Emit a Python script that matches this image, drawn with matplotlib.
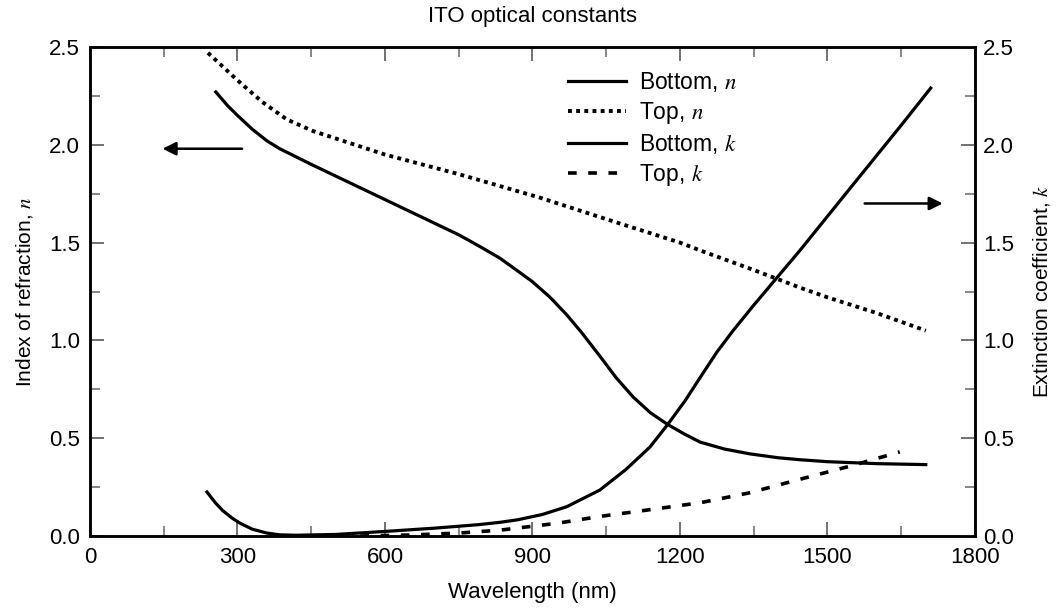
import matplotlib
matplotlib.use("Agg")
import matplotlib.pyplot as plt
from matplotlib.ticker import MultipleLocator

plt.rcParams['font.family'] = ['Liberation Sans', 'DejaVu Sans']
plt.rcParams['mathtext.fontset'] = 'stix'

# wavelength (nm) and values
wl_top_n = [240, 300, 350, 400, 454, 600, 750, 915, 1050, 1200, 1241, 1350, 1444, 1500, 1600, 1700]
top_n = [2.47, 2.33, 2.22, 2.13, 2.07, 1.95, 1.85, 1.73, 1.62, 1.50, 1.46, 1.36, 1.27, 1.22, 1.14, 1.05]

wl_bot_n = [256, 280, 300, 330, 360, 386, 450, 500, 550, 600, 650, 700, 750, 793, 834,
            870, 900, 936, 970, 1000, 1037, 1070, 1105, 1140, 1175, 1210, 1241, 1290,
            1342, 1400, 1444, 1500, 1600, 1700]
bot_n = [2.27, 2.20, 2.15, 2.08, 2.02, 1.98, 1.90, 1.84, 1.78, 1.72, 1.66, 1.60, 1.54, 1.48, 1.42,
         1.355, 1.30, 1.22, 1.13, 1.04, 0.92, 0.81, 0.71, 0.63, 0.57, 0.52, 0.48, 0.445,
         0.42, 0.40, 0.39, 0.38, 0.37, 0.365]

wl_bot_k = [238, 255, 270, 290, 305, 330, 360, 386, 420, 500, 610, 700, 790, 834, 870,
            920, 970, 1037, 1090, 1139, 1175, 1210, 1241, 1275, 1308, 1350, 1444, 1550,
            1650, 1710]
bot_k = [0.225, 0.17, 0.13, 0.09, 0.066, 0.035, 0.015, 0.006, 0.004, 0.008, 0.025, 0.04, 0.058, 0.07, 0.083,
         0.11, 0.15, 0.235, 0.34, 0.455, 0.57, 0.69, 0.81, 0.94, 1.05, 1.18, 1.46, 1.79,
         2.10, 2.29]

wl_top_k = [550, 650, 750, 834, 950, 1037, 1140, 1241, 1340, 1444, 1550, 1647]
top_k = [0.0, 0.005, 0.015, 0.03, 0.065, 0.10, 0.135, 0.17, 0.22, 0.29, 0.36, 0.43]

fig = plt.figure(figsize=(10.57, 6.08), dpi=100)
ax = fig.add_axes([0.0851, 0.1184, 0.8373, 0.8043])
ax2 = ax.twinx()

l1, = ax.plot(wl_bot_n, bot_n, color='black', lw=2.3, label='Bottom, $n$')
l2, = ax.plot(wl_top_n, top_n, color='black', lw=2.8, linestyle=(0, (1, 1.1)), label='Top, $n$')
l3, = ax2.plot(wl_bot_k, bot_k, color='black', lw=2.3, label='Bottom, $k$')
l4, = ax2.plot(wl_top_k, top_k, color='black', lw=2.6, linestyle=(0, (2.4, 3.2)), label='Top, $k$')

for a in (ax, ax2):
    a.set_xlim(0, 1800)
    a.set_ylim(0, 2.5)
    a.yaxis.set_major_locator(MultipleLocator(0.5))
    a.yaxis.set_minor_locator(MultipleLocator(0.25))
    a.yaxis.set_major_formatter(plt.FormatStrFormatter('%.1f'))
    for s in a.spines.values():
        s.set_linewidth(1.8)
    a.tick_params(which='both', direction='in', labelsize=16, color='#666666')
    a.tick_params(which='major', length=10, width=1.3)
    a.tick_params(which='minor', length=7, width=1.1)

ax.xaxis.set_major_locator(MultipleLocator(300))
ax.xaxis.set_minor_locator(MultipleLocator(150))
ax.tick_params(which='both', top=True)
ax.tick_params(axis='x', pad=8)
ax.tick_params(axis='y', pad=7)
ax2.tick_params(axis='y', pad=6)

ax.set_xlabel('Wavelength (nm)', fontsize=16, labelpad=10)
ax.set_ylabel('Index of refraction, $n$', fontsize=15, labelpad=10)
ax2.set_ylabel('Extinction coefficient, $k$', fontsize=15, labelpad=12)
ax.set_title('ITO optical constants', fontsize=16, pad=18)

# direction arrows
ax.annotate('', xy=(142, 1.98), xytext=(315, 1.98),
            arrowprops=dict(arrowstyle='-|>', color='black', lw=1.8, mutation_scale=20))
ax.annotate('', xy=(1740, 1.70), xytext=(1570, 1.70),
            arrowprops=dict(arrowstyle='-|>', color='black', lw=1.8, mutation_scale=20))

ax.legend(handles=[l1, l2, l3, l4], loc='upper left', bbox_to_anchor=(0.522, 0.985),
          frameon=False, fontsize=16.5, handlelength=2.55, handletextpad=0.55,
          labelspacing=0.25, borderaxespad=0.3)

fig.savefig('out.png', dpi=100)
